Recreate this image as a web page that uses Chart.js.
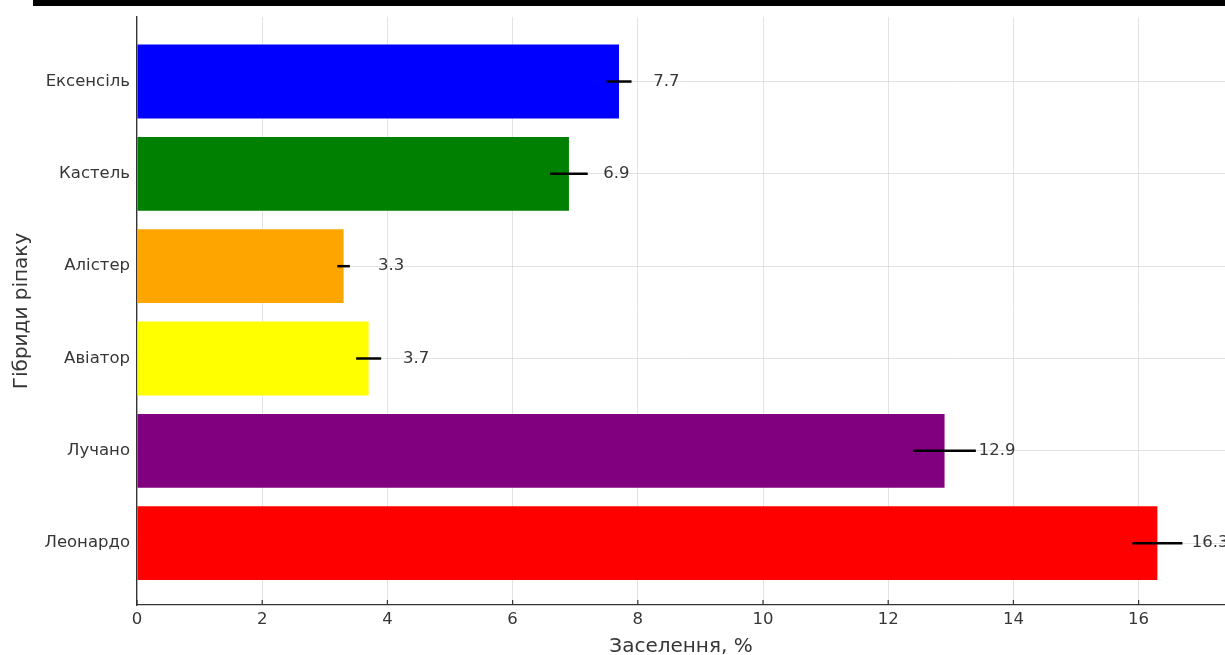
<!DOCTYPE html>
<html>
<head>
<meta charset="utf-8">
<script src="https://cdn.jsdelivr.net/npm/chart.js@4.4.1/dist/chart.umd.min.js"></script>
<style>
  html, body { margin: 0; padding: 0; background: #fff; }
  #wrap { position: relative; width: 1225px; height: 655px; }
  #band { position: absolute; left: 33px; top: 0; width: 1192px; height: 6px; background: #000; }
</style>
</head>
<body>
<div id="wrap">
  <canvas id="myChart" width="1225" height="655"></canvas>
  <div id="band"></div>
</div>
<script>
// дані (зверху вниз)
const hybrids = ['Ексенсіль', 'Кастель', 'Алістер', 'Авіатор', 'Лучано', 'Леонардо'];
const infestation = [7.7, 6.9, 3.3, 3.7, 12.9, 16.3];
const errors = [0.2, 0.3, 0.1, 0.2, 0.5, 0.4];
const barColors = ['#0000ff', '#008000', '#ffa500', '#ffff00', '#800080', '#ff0000'];
const xTicks = [0, 2, 4, 6, 8, 10, 12, 14, 16];

const FONT = 'DejaVu Sans';
const TEXT = '#363636';

// похибки, підписи значень і внутрішні риски осі X
const extras = {
  id: 'extras',
  afterDraw(chart) {
    const ctx = chart.ctx;
    const x = chart.scales.x;
    const y = chart.scales.y;
    ctx.save();
    ctx.strokeStyle = '#000';
    ctx.lineWidth = 2.5;
    infestation.forEach((v, i) => {
      const py = y.getPixelForValue(i);
      ctx.beginPath();
      ctx.moveTo(x.getPixelForValue(v - errors[i]), py);
      ctx.lineTo(x.getPixelForValue(v + errors[i]), py);
      ctx.stroke();
    });
    ctx.fillStyle = TEXT;
    ctx.font = '16.5px "' + FONT + '"';
    ctx.textAlign = 'left';
    ctx.textBaseline = 'middle';
    infestation.forEach((v, i) => {
      ctx.fillText(v.toFixed(1), x.getPixelForValue(v + 0.5) + 3, y.getPixelForValue(i));
    });
    // маленькі риски всередину
    ctx.strokeStyle = '#333';
    ctx.lineWidth = 1.2;
    xTicks.forEach(t => {
      const px = x.getPixelForValue(t);
      ctx.beginPath();
      ctx.moveTo(px, chart.chartArea.bottom);
      ctx.lineTo(px, chart.chartArea.bottom - 5);
      ctx.stroke();
    });
    ctx.restore();
  }
};

const ctx = document.getElementById('myChart').getContext('2d');
const myChart = new Chart(ctx, {
  type: 'bar',
  data: {
    datasets: [{
      data: infestation.map((v, i) => ({ x: v, y: i })),
      backgroundColor: barColors,
      borderWidth: 0,
      barPercentage: 0.8,
      categoryPercentage: 1
    }]
  },
  options: {
    indexAxis: 'y',
    responsive: false,
    animation: false,
    layout: { padding: { top: 10, right: 0, left: 0, bottom: 0 } },
    plugins: { legend: { display: false }, tooltip: { enabled: false } },
    scales: {
      x: {
        type: 'linear',
        min: 0,
        max: 17.38,
        z: 1,
        afterBuildTicks: s => { s.ticks = xTicks.map(v => ({ value: v })); },
        afterFit: s => { s.height = 50; },
        grid: { color: 'rgba(185,185,185,0.4)', lineWidth: 1, drawTicks: false },
        border: { color: '#333', width: 1.3 },
        ticks: { color: TEXT, padding: 5, font: { family: FONT, size: 16.5 } },
        title: {
          display: true,
          text: 'Заселення, %',
          color: TEXT,
          padding: 0,
          font: { family: FONT, size: 20, lineHeight: 0.8 }
        }
      },
      y: {
        type: 'linear',
        reverse: true,
        offset: false,
        min: -0.70,
        max: 5.67,
        z: 1,
        afterBuildTicks: s => { s.ticks = hybrids.map((_, i) => ({ value: i })); },
        afterFit: s => { s.width = 137; },
        grid: { offset: false, color: 'rgba(185,185,185,0.4)', lineWidth: 1, drawTicks: false },
        border: { color: '#333', width: 1.3 },
        ticks: {
          color: TEXT,
          padding: 7,
          font: { family: FONT, size: 16.5 },
          callback: v => hybrids[v]
        },
        title: {
          display: true,
          text: 'Гібриди ріпаку',
          color: TEXT,
          padding: { top: 10, bottom: 0 },
          font: { family: FONT, size: 20 }
        }
      }
    }
  },
  plugins: [extras]
});
</script>
</body>
</html>
